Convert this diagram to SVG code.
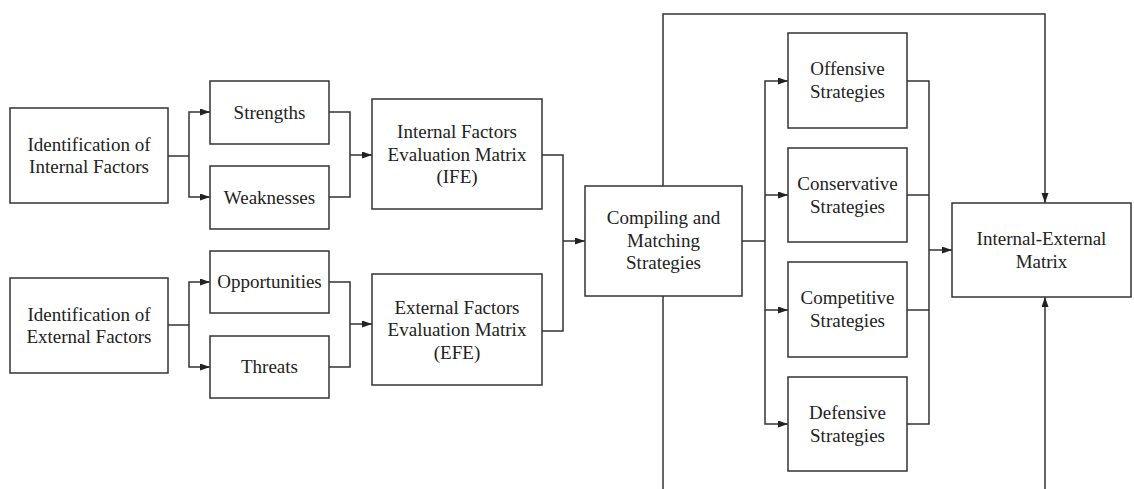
<svg xmlns="http://www.w3.org/2000/svg" width="1134" height="489" viewBox="0 0 1134 489">
<defs>
<marker id="arr" markerUnits="userSpaceOnUse" markerWidth="11" markerHeight="8" refX="10" refY="3.5" orient="auto">
<path d="M0,0 L10,3.5 L0,7 z" fill="#222"/>
</marker>
<style>
.box{fill:#fff;stroke:#333;stroke-width:1.5}
.t{font-size:19px;fill:#222;text-anchor:middle}
.c{fill:none;stroke:#333;stroke-width:1.5}
.a{marker-end:url(#arr)}
</style>
</defs>
<rect width="1134" height="489" fill="#fff"/>
<g id="connectors">
<path class="c" d="M168,156 H189"/>
<path class="c a" d="M189,156 V112 H210"/>
<path class="c a" d="M189,156 V197 H210"/>
<path class="c" d="M329,112 H350 V197 H329"/>
<path class="c a" d="M350,155 H372"/>
<path class="c" d="M168,325 H189"/>
<path class="c a" d="M189,325 V282 H210"/>
<path class="c a" d="M189,325 V367 H210"/>
<path class="c" d="M329,282 H350 V367 H329"/>
<path class="c a" d="M350,324 H372"/>
<path class="c" d="M542,155 H563 V331 H542"/>
<path class="c a" d="M563,241 H585"/>
<path class="c" d="M742,241 H765"/>
<path class="c a" d="M765,241 V81 H788"/>
<path class="c a" d="M765,195 H788"/>
<path class="c a" d="M765,241 V310 H788"/>
<path class="c a" d="M765,310 V424 H788"/>
<path class="c" d="M907,81 H929 V424 H907"/>
<path class="c" d="M907,195 H929"/>
<path class="c" d="M907,310 H929"/>
<path class="c a" d="M929,250 H952"/>
<path class="c a" d="M663,186 V14 H1045 V203"/>
<path class="c" d="M663,296 V489"/>
<path class="c a" d="M1045,489 V297"/>
</g>
<g font-family="'Liberation Serif', 'DejaVu Serif', serif">
<g id="int-id"><rect class="box" x="10" y="108" width="158" height="95"/><text class="t" x="89" y="151">Identification of</text><text class="t" x="89" y="173">Internal Factors</text></g>
<g id="ext-id"><rect class="box" x="10" y="278" width="158" height="95"/><text class="t" x="89" y="321">Identification of</text><text class="t" x="89" y="343">External Factors</text></g>
<g id="strengths"><rect class="box" x="210" y="81" width="119" height="63"/><text class="t" x="269.5" y="118.5">Strengths</text></g>
<g id="weaknesses"><rect class="box" x="210" y="166" width="119" height="63"/><text class="t" x="269.5" y="203.5">Weaknesses</text></g>
<g id="opportunities"><rect class="box" x="210" y="251" width="119" height="62"/><text class="t" x="269.5" y="288">Opportunities</text></g>
<g id="threats"><rect class="box" x="210" y="336" width="119" height="62"/><text class="t" x="269.5" y="373">Threats</text></g>
<g id="ife"><rect class="box" x="372" y="99" width="170" height="110"/><text class="t" x="457" y="138">Internal Factors</text><text class="t" x="457" y="160.5">Evaluation Matrix</text><text class="t" x="457" y="183">(IFE)</text></g>
<g id="efe"><rect class="box" x="372" y="274" width="170" height="111"/><text class="t" x="457" y="313.5">External Factors</text><text class="t" x="457" y="336">Evaluation Matrix</text><text class="t" x="457" y="358.5">(EFE)</text></g>
<g id="compiling"><rect class="box" x="585" y="186" width="157" height="110"/><text class="t" x="663.5" y="224">Compiling and</text><text class="t" x="663.5" y="246.5">Matching</text><text class="t" x="663.5" y="269">Strategies</text></g>
<g id="offensive"><rect class="box" x="788" y="33" width="119" height="95"/><text class="t" x="847.5" y="75">Offensive</text><text class="t" x="847.5" y="98">Strategies</text></g>
<g id="conservative"><rect class="box" x="788" y="148" width="119" height="94"/><text class="t" x="847.5" y="189.5">Conservative</text><text class="t" x="847.5" y="212.5">Strategies</text></g>
<g id="competitive"><rect class="box" x="788" y="262" width="119" height="95"/><text class="t" x="847.5" y="304">Competitive</text><text class="t" x="847.5" y="327">Strategies</text></g>
<g id="defensive"><rect class="box" x="788" y="377" width="119" height="94"/><text class="t" x="847.5" y="418.5">Defensive</text><text class="t" x="847.5" y="441.5">Strategies</text></g>
<g id="ie-matrix"><rect class="box" x="952" y="203" width="179" height="94"/><text class="t" x="1041.5" y="245">Internal-External</text><text class="t" x="1041.5" y="268">Matrix</text></g>
</g>
</svg>
